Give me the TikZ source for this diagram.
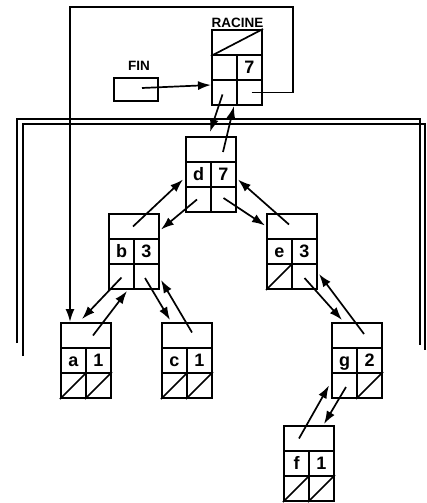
\documentclass[tikz,border=0pt]{standalone}
\usepackage{fontspec}
\setmainfont{Liberation Sans}
\usetikzlibrary{arrows.meta,calc}
\tikzset{
  tcell/.style={draw, line width=2pt, minimum width=50pt, minimum height=25pt, inner sep=0pt},
  kcell/.style={draw, line width=2pt, minimum width=25pt, minimum height=25pt, inner sep=0pt,
    font=\fontsize{18}{18}\selectfont\bfseries, text height=13pt, text depth=1.5pt},
  ptr/.style={line width=1.7pt, -{Latex[length=13pt,width=9pt]}},
  frameline/.style={line width=1.7pt},
  nilline/.style={line width=1.7pt},
  lbl/.style={font=\fontsize{13.5}{13.5}\selectfont\bfseries, inner sep=0pt}
}
\newcommand\listrec[5]{%
  \node[tcell] (#1-t) at (#2+25,#3+12.5) {};
  \node[kcell] (#1-k) at (#2+12.5,#3+37.5) {#4};
  \node[kcell] (#1-v) at (#2+37.5,#3+37.5) {#5};
  \node[kcell] (#1-l) at (#2+12.5,#3+62.5) {};
  \node[kcell] (#1-r) at (#2+37.5,#3+62.5) {};
}
\begin{document}
\begin{tikzpicture}[x=1pt,y=-1pt]
\useasboundingbox (0,0) rectangle (427,503);
% frames
\draw[frameline] (17,343) -- (17,119) -- (420,119) -- (420,345);
\draw[frameline] (23,356) -- (23,124) -- (425,124) -- (425,350);
% records
\listrec{R}{212}{30}{}{7}
\listrec{d}{186}{137}{d}{7}
\listrec{b}{109}{214}{b}{3}
\listrec{e}{267}{214}{e}{3}
\listrec{a}{61}{323}{a}{1}
\listrec{c}{162}{323}{c}{1}
\listrec{g}{332}{323}{g}{2}
\listrec{f}{284}{426}{f}{1}
% nil diagonals
\draw[nilline] (R-t.south west) -- (R-t.north east);
\foreach \n in {a-l,a-r,c-l,c-r,e-l,g-r,f-l,f-r}
  \draw[nilline] (\n.south west) -- (\n.north east);
% labels
\node[lbl] (racl) at (237.5,23) {RACINE};
\node[tcell, minimum width=44pt, minimum height=23pt] (fin) at (136,89.5) {};
\node[lbl] (finl) at (139,66) {FIN};
% FIN pointer
\draw[ptr] ([shift={(6,-1.5)}]fin.center) -- ([shift={(0,-7.5)}]R-l.west);
% racine loop to first
\draw[ptr] ([xshift=2pt]R-r.center) -| (293,7) -| ([xshift=10pt]a-t.north west);
% racine <-> d
\draw[ptr] ([shift={(-2,2)}]R-l.center) -- ([shift={(-1,-4)}]d-t.north);
\draw[ptr] ([shift={(12,2.5)}]d-t.center) -- ([shift={(-4,0)}]R-l.south east);
% d <-> b
\draw[ptr] ([shift={(-1.5,0)}]d-l.center) -- ([shift={(1,3)}]b-t.east);
\draw[ptr] ([shift={(-1,0)}]b-t.center) -- ([shift={(-2,5)}]d-k.west);
% d <-> e
\draw[ptr] ([shift={(0,-1.5)}]d-r.center) -- ([shift={(-1,-1)}]e-t.west);
\draw[ptr] ([shift={(-3,-2)}]e-t.center) -- ([shift={(1,5)}]d-v.east);
% b <-> a
\draw[ptr] ([shift={(0,1)}]b-l.center) -- ([shift={(-4,-3)}]a-t.north);
\draw[ptr] ([shift={(7,0)}]a-t.center) -- ([shift={(-8,1)}]b-l.south east);
% b <-> c
\draw[ptr] ([shift={(-1.5,1.5)}]b-r.center) -- ([shift={(-17,-2)}]c-t.north);
\draw[ptr] ([shift={(5,-3)}]c-t.center) -- ([shift={(1,3.5)}]b-r.east);
% e <-> g
\draw[ptr] ([shift={(0,1.5)}]e-r.center) -- ([shift={(-15,-2)}]g-t.north);
\draw[ptr] ([shift={(7,-1.5)}]g-t.center) -- ([shift={(1,-2.5)}]e-r.east);
% g <-> f
\draw[ptr] ([shift={(1.5,1.5)}]g-l.center) -- ([shift={(15,-1)}]f-t.north);
\draw[ptr] ([shift={(-10,0)}]f-t.center) -- ([shift={(-2,0)}]g-l.west);
\end{tikzpicture}
\end{document}
